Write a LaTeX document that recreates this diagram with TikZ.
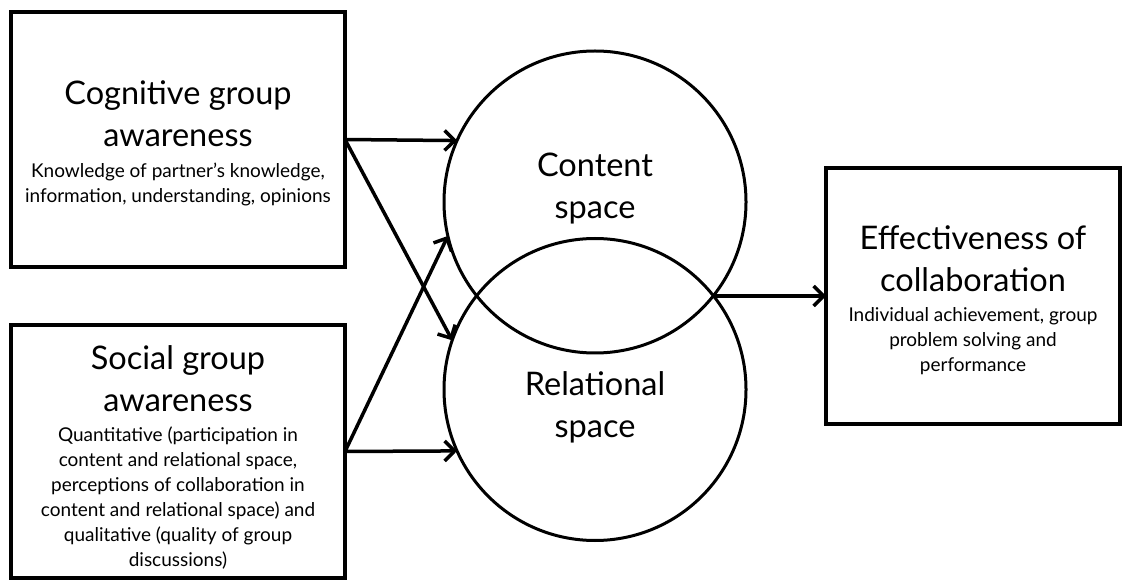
\documentclass[tikz,border=0pt]{standalone}
\usepackage{fontspec}
\setmainfont{Lato}
\usetikzlibrary{arrows.meta, positioning}

\tikzset{
  box/.style={draw, line width=4pt, minimum width=334pt, minimum height=255pt, inner sep=0pt, outer sep=0pt},
  spacecircle/.style={draw, circle, line width=3pt, minimum size=302pt, inner sep=0pt, outer sep=0pt},
  boxtitle/.style={align=center, inner sep=0pt, outer sep=0pt, font=\fontsize{32.5}{42}\selectfont},
  boxtext/.style={align=center, inner sep=0pt, outer sep=0pt, font=\fontsize{19}{25}\selectfont},
  link/.style={-{Straight Barb[length=10pt,width=20pt]}, line width=3.5pt},
}

\begin{document}
\begin{tikzpicture}[x=1pt, y=1pt]
        \useasboundingbox (0,0) rectangle (1123,581);

        % Awareness boxes
        \node[box] (cg) at (178,441.5) {};
        \node[box, minimum height=253pt] (sg) at (178,129.5) {};

        % Outcome box
        \node[box, minimum width=294pt, minimum height=256pt] (eff) at (973,285) {};

        % Spaces
        \node[spacecircle] (content) at (595,379) {};
        \node[spacecircle] (relational) at (595,191.5) {};

        % Texts
        \node[boxtitle, anchor=south] (cgtitle) at ([yshift=-7pt]cg.center) {Cognitive group\\awareness};
        \node[boxtext, below=16pt of cgtitle] (cgtext) {Knowledge of partner's knowledge,\\information, understanding, opinions};

        \node[boxtitle, anchor=south] (sgtitle) at ([yshift=40pt]sg.center) {Social group\\awareness};
        \node[boxtext, below=15pt of sgtitle] (sgtext) {Quantitative (participation in\\content and relational space,\\perceptions of collaboration in\\content and relational space) and\\qualitative (quality of group\\discussions)};

        \node[boxtitle, anchor=south] (efftitle) at ([yshift=4pt]eff.center) {Effectiveness of\\collaboration};
        \node[boxtext, below=16pt of efftitle] (efftext) {Individual achievement, group\\problem solving and\\performance};

        \node[boxtitle] (contentlbl) at ([yshift=13pt]content.center) {Content\\space};
        \node[boxtitle] (rellbl) at ([yshift=-18pt]relational.center) {Relational\\space};

        % Links
        \draw[link] (cg.east) -- (content.156);
        \draw[link] (cg.east) -- (relational.161);
        \draw[link] (sg.east) -- (content.193);
        \draw[link] (sg.east) -- (relational.204);
        \draw[link] (content.-38 |- eff.west) -- (eff.west);
\end{tikzpicture}
\end{document}
